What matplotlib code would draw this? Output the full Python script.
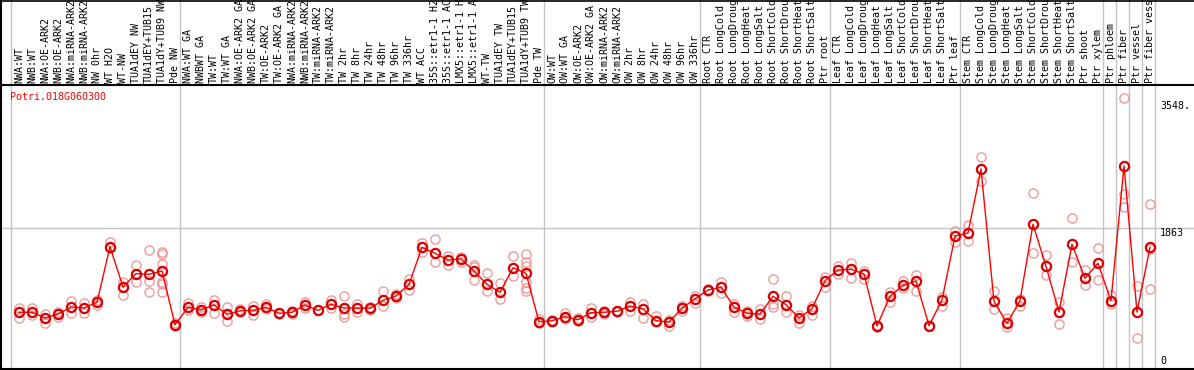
import matplotlib
matplotlib.use('Agg')
import matplotlib.pyplot as plt
from matplotlib.lines import Line2D
from matplotlib.transforms import blended_transform_factory

# ---------------- data ----------------
labels = [
    "NWA:WT", "NWB:WT", "NWA:OE-ARK2", "NWB:OE-ARK2", "NWA:miRNA-ARK2", "NWB:miRNA-ARK2",
    "NW 0hr", "WT H2O", "WT-NW", "TUA1dEY NW", "TUA1dEY+TUB15", "TUA1dY+TUB9 NW", "Pde NW",
    "NWA:WT GA", "NWBWT GA", "TW:WT", "TW:WT GA", "NWA:OE-ARK2 GA", "NWB:OE-ARK2 GA",
    "TW:OE-ARK2", "TW:OE-ARK2 GA", "NWA:miRNA-ARK2", "NWB:miRNA-ARK2", "TW:miRNA-ARK2",
    "TW:miRNA-ARK2", "TW 2hr", "TW 8hr", "TW 24hr", "TW 48hr", "TW 96hr", "TW 336hr",
    "WT ACC", "35S::etr1-1 H2", "35S::etr1-1 AC", "LMX5::etr1-1 H", "LMX5::etr1-1 A",
    "WT-TW", "TUA1dEY TW", "TUA1dEY+TUB15", "TUA1dY+TUB9 TW", "Pde TW",
    "OW:WT", "OW:WT GA", "OW:OE-ARK2", "OW:OE-ARK2 GA", "OW:miRNA-ARK2", "OW:miRNA-ARK2",
    "OW 2hr", "OW 8hr", "OW 24hr", "OW 48hr", "OW 96hr", "OW 336hr",
    "Root CTR", "Root LongCold", "Root LongDroug", "Root LongHeat", "Root LongSalt",
    "Root ShortCold", "Root ShortDrou", "Root ShortHeat", "Root ShortSalt", "Ptr root",
    "Leaf CTR", "Leaf LongCold", "Leaf LongDroug", "Leaf LongHeat", "Leaf LongSalt",
    "Leaf ShortCold", "Leaf ShortDrou", "Leaf ShortHeat", "Leaf ShortSalt", "Ptr leaf",
    "Stem CTR", "Stem LongCold", "Stem LongDroug", "Stem LongHeat", "Stem LongSalt",
    "Stem ShortCold", "Stem ShortDrou", "Stem ShortHeat", "Stem ShortSalt", "Ptr shoot",
    "Ptr xylem", "Ptr phloem", "Ptr fiber", "Ptr vessel", "Ptr fiber vess",
]

means = [
    747, 747, 671, 724, 817, 804, 880, 1618, 1083, 1260, 1252, 1295, 582,
    813, 777, 844, 720, 767, 773, 813, 733, 747, 844, 773, 853, 804, 804, 800, 906, 963,
    1119, 1610, 1531, 1442, 1455, 1295, 1119, 1012, 1339, 1265, 622,
    635, 688, 648, 741, 747, 760, 830, 791, 635, 618, 800, 927,
    1043, 1079, 817, 733, 724, 959, 848, 671, 795, 1167,
    1309, 1318, 1256, 565, 959, 1105, 1163, 569, 910, 1761,
    1800, 2651, 893, 601, 901, 1916, 1358, 751, 1650, 1198, 1398,
    901, 2691, 751, 1610,
]

replicates = [
    [808, 747, 675], [800, 747, 711], [728, 671, 601], [747, 724, 688], [897, 817, 737],
    [866, 804, 737], [906, 880, 848], [1685, 1618, 1605], [1145, 1083, 977], [1371, 1260, 1145],
    [1575, 1163, 1012], [1544, 1517, 1392, 1153, 1123, 1012], [600, 582, 565],
    [866, 813, 777], [821, 777, 747], [910, 844, 741], [821, 720, 635], [767, 747, 790],
    [830, 773, 711], [861, 813, 790], [737, 733, 724], [760, 747, 724], [880, 844, 800],
    [773, 773, 773], [906, 853, 800], [963, 804, 720, 688], [853, 804, 747], [821, 800, 780],
    [1030, 906, 834], [963, 933, 990], [1185, 1119, 1047], [1664, 1610, 1544],
    [1721, 1531, 1411], [1499, 1442, 1375], [1480, 1455, 1419], [1375, 1353, 1172],
    [1265, 1119, 1030], [1132, 1012, 923], [1491, 1339, 1233],
    [1525, 1419, 1366, 1145, 1074, 1030], [658, 622, 600],
    [650, 635, 620], [733, 688, 658], [675, 648, 630], [800, 741, 688], [760, 747, 720],
    [770, 760, 750], [880, 830, 764], [857, 791, 667], [702, 635, 614], [640, 618, 565],
    [830, 800, 764], [960, 927, 874],
    [1060, 1043, 1030], [1149, 1079, 1007], [860, 817, 751], [768, 733, 700], [787, 724, 662],
    [1185, 857, 821], [967, 848, 747], [714, 671, 609], [830, 795, 707], [1212, 1167, 1079],
    [1362, 1309, 1256], [1398, 1318, 1206], [1295, 1256, 1185], [582, 565, 550],
    [1012, 959, 888], [1167, 1105, 1070], [1246, 1163, 1034], [580, 569, 560],
    [954, 910, 834], [1827, 1761, 1685],
    [1907, 1800, 1698], [2810, 2651, 2491], [1030, 893, 787], [675, 601, 547],
    [923, 901, 830], [2332, 1916, 1531], [1508, 1358, 1242], [888, 751, 591],
    [1996, 1650, 1419], [1309, 1198, 1109], [1597, 1398, 1176],
    [977, 901, 857], [3590, 2323, 2146], [1096, 751, 401], [2186, 1588, 1056],
]

group_starts = [0, 13, 41, 53, 63, 73, 84, 85, 86, 87, 88]
title = "Potri.018G060300"
axis_values = [3548, 1863, 0]
axis_texts = ["3548.", "1863", "0"]

# ---------------- layout ----------------
W, H = 1194, 370
fig = plt.figure(figsize=(W / 100, H / 100), dpi=100)
fig.patch.set_facecolor('white')
top_px, bot_px = 85, 368.5
px_per_unit = 0.07526
x0_px, step_px = 19, 13

ax = fig.add_axes([0, 1 - bot_px / H, 1, (bot_px - top_px) / H])
ax.set_xlim(-x0_px / step_px, (W - x0_px) / step_px)
ax.set_ylim(0, (bot_px - top_px) / px_per_unit)
ax.set_xticks([])
ax.set_yticks([])
ax.spines['right'].set_visible(False)
for s in ['left', 'bottom', 'top']:
    ax.spines[s].set_color('black')
    ax.spines[s].set_linewidth(1.5)

mono = 'DejaVu Sans Mono'
fs = 7.2
grid_c = '#c4c4c4'

# vertical group separators (extend into label area)
ymax_ax = bot_px / (bot_px - top_px)
for g in group_starts:
    ax.axvline(g - 8 / step_px, ymin=0, ymax=ymax_ax, color=grid_c, lw=1,
               clip_on=False, zorder=0)
ax.axhline(axis_values[1], color=grid_c, lw=1, zorder=0)

# replicates
for i, reps in enumerate(replicates):
    ax.plot([i] * len(reps), reps, linestyle='none', marker='o', mfc='none',
            mec='#ec9c9c', ms=6.6, mew=1.0, zorder=2)

# mean line and markers
xs = list(range(len(means)))
ax.plot(xs, means, color='#ff0000', lw=1, zorder=3)
ax.plot(xs, means, linestyle='none', marker='o', mfc='none', mec='#d80000',
        ms=6.6, mew=1.6, zorder=4)

# column labels
trans = blended_transform_factory(ax.transData, ax.transAxes)
ylab = (bot_px - 83) / (bot_px - top_px)
for i, lab in enumerate(labels):
    ax.text(i, ylab, lab, rotation=90, ha='center', va='bottom', transform=trans,
            fontsize=fs, family=mono, color='black', clip_on=False)

# title
ax.text((10 - x0_px) / step_px, (bot_px - 97) / px_per_unit, title, color='red',
        fontsize=fs, family=mono, ha='left', va='center')

# right value labels
xr = (1160 - x0_px) / step_px
ax.text(xr, axis_values[0], axis_texts[0], fontsize=fs, family=mono, ha='left', va='top')
ax.text(xr, axis_values[1], axis_texts[1], fontsize=fs, family=mono, ha='left', va='top')
ax.text(xr, axis_values[2] + 3 / px_per_unit, axis_texts[2], fontsize=fs, family=mono,
        ha='left', va='bottom')

# outer border lines
fig.add_artist(Line2D([0, 1], [1 - 0.5 / H] * 2, color='black', lw=1.2,
                      transform=fig.transFigure))
fig.add_artist(Line2D([0.75 / W] * 2, [1 - bot_px / H, 1], color='black', lw=1.5,
                      transform=fig.transFigure))

fig.savefig('out.png', dpi=100, facecolor='white')
